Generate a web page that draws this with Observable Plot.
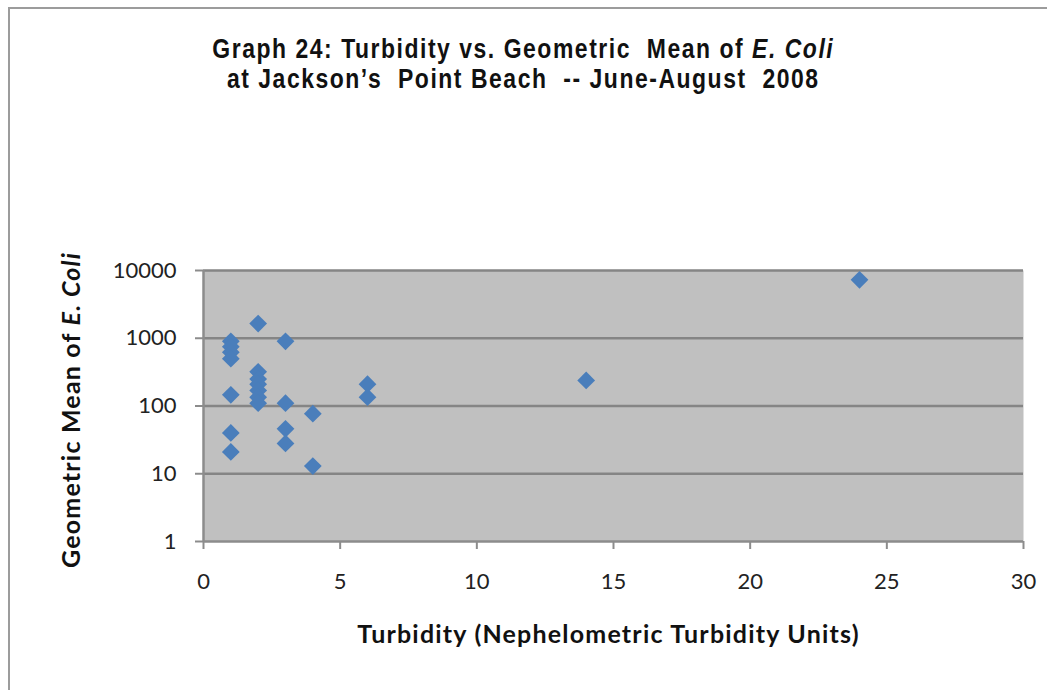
<!DOCTYPE html>
<html>
<head>
<meta charset="utf-8">
<script src="https://cdn.jsdelivr.net/npm/d3@7"></script>
<script src="https://cdn.jsdelivr.net/npm/@observablehq/plot@0.6"></script>
<style>
  html, body { margin: 0; padding: 0; background: #fff; }
  #page { position: relative; width: 1047px; height: 690px; overflow: hidden; background: #fff; }
  #frame { position: absolute; left: 8px; top: 7px; width: 1100px; height: 700px;
           border-left: 2px solid #9c9c9c; border-top: 2px solid #9c9c9c; }
  #title { position: absolute; left: 0; top: 34px; width: 1047px; text-align: center;
           transform: scaleX(0.85); transform-origin: 522px 0;
           font-family: "Liberation Sans", Arial, sans-serif; letter-spacing: 1.8px;
           font-weight: bold; font-size: 27px; line-height: 30px; color: #111; }
  #chart { position: absolute; left: 0; top: 115px; }
  .axtitle { position: absolute; font-family: Lato, "Open Sans", sans-serif; font-weight: bold;
             font-size: 25px; letter-spacing: 1.2px; color: #111; white-space: nowrap; }
  #xtitle { left: 0; width: 1217px; text-align: center; top: 618px; }
  #ytitle { left: 70px; top: 410px; transform: translate(-50%, -50%) rotate(-90deg); }
</style>
</head>
<body>
<div id="page">
  <div id="frame"></div>
  <div id="title">Graph 24: Turbidity vs. Geometric&nbsp; Mean of <i>E. Coli</i><br>at Jackson’s&nbsp; Point Beach&nbsp; -- June-August&nbsp; 2008</div>
  <div id="chart"></div>
  <div id="xtitle" class="axtitle">Turbidity (Nephelometric Turbidity Units)</div>
  <div id="ytitle" class="axtitle">Geometric Mean of <i>E. Coli</i></div>
</div>
<script>
// Data
const turbidity = [1, 1, 1, 1, 1, 1, 1, 2, 2, 2, 2, 2, 2, 2, 3, 3, 3, 3, 4, 4, 6, 6, 14, 24];
const ecoliMean = [900, 750, 620, 500, 146, 40, 21, 1650, 320, 250, 210, 170, 135, 110, 900, 110, 46, 28, 77, 13, 210, 135, 238, 7300];
const xTicks = [0, 5, 10, 15, 20, 25, 30];
const yTicks = [1, 10, 100, 1000, 10000];
const gridLines = [10, 100, 1000, 10000];

const points = turbidity.map((t, i) => ({turbidity: t, ecoli: ecoliMean[i]}));

const chart = Plot.plot({
  width: 1047,
  height: 575,
  marginTop: 155,
  marginBottom: 149,
  marginLeft: 203,
  marginRight: 24,
  style: {fontFamily: "Lato, 'Open Sans', sans-serif", fontSize: "22px", color: "#222", background: "transparent"},
  x: {domain: [0, 30], ticks: xTicks, label: null},
  y: {type: "log", domain: [1, 10000], ticks: yTicks, label: null},
  marks: [
    Plot.frame({fill: "#c0c0c0", stroke: null}),
    Plot.ruleY(gridLines, {stroke: "#858585", strokeWidth: 2.5}),
    Plot.ruleX([0], {stroke: "#8c8c8c", strokeWidth: 2.5}),
    Plot.ruleY([1], {stroke: "#8c8c8c", strokeWidth: 2.5}),
    Plot.axisX({ticks: xTicks, tickSize: 8, tickPadding: 24, stroke: "#8c8c8c", strokeWidth: 2, label: null, tickFormat: d => String(d)}),
    Plot.axisY({ticks: yTicks, tickSize: 8, tickPadding: 19, stroke: "#8c8c8c", strokeWidth: 2, label: null, tickFormat: d => String(d)}),
    Plot.dot(points, {x: "turbidity", y: "ecoli", symbol: "diamond2", r: 8, fill: "#4a7ebb", stroke: null})
  ]
});
document.getElementById("chart").appendChild(chart);
</script>
</body>
</html>
